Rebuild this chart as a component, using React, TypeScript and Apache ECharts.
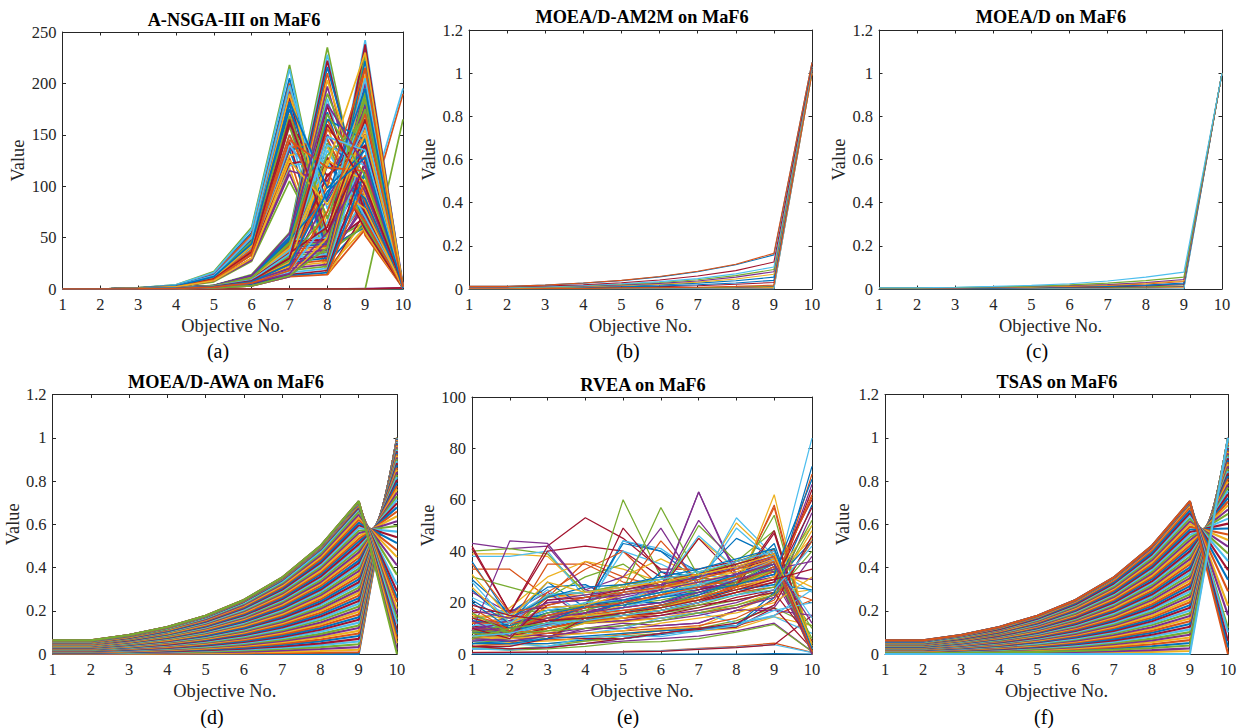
import React, { useEffect, useRef } from "react";
import * as echarts from "echarts";

const objectives = ["1", "2", "3", "4", "5", "6", "7", "8", "9", "10"];
const matlabColors = ["#0072BD", "#D95319", "#EDB120", "#7E2F8E", "#77AC30", "#4DBEEE", "#A2142F"];

const ansgaLines = [
  [0,0,0,0,0,0,0,0,0,0],[0,0,.3,1,3,9,22,38,62,190],[0,0,0,0,0,0,0,0,0,.5],[0,0,0,0,0,0,0,0,.5,1],
  [0,0,0,0,0,0,0,0,0,165],[0,0,.3,1,3,10,25,40,70,195],[0,0,0,0,0,0,0,0,0,1],
  [0,0,1,3.6,15,55,205,48,110,3],[0,0,1,3.5,15,53,200,36,85,1],[0,0,1,3.2,14,50,195,50,120,4],[0,0,.9,3,14,50,192,30,80,2],
  [0,0,1,4,17,60,218,45,100,2],[0,0,1,4,16,58,214,40,95,1],[0,0,.9,3,13,48,186,42,70,1],[0,0,.9,3,13,47,180,25,65,3],
  [0,0,.8,2.8,12,45,175,38,95,2],[0,0,.8,2.8,12,44,170,20,60,1],[0,0,.8,2.6,11,42,162,35,100,1],[0,0,.8,2.6,11,40,158,45,65,2],
  [0,0,.7,2.4,10,38,150,30,90,1],[0,0,.7,2.4,10,36,143,14,75,2],[0,0,.7,2.2,9,35,135,40,60,1],[0,0,.6,2,9,33,128,14,58,1],
  [0,0,.6,2,8,30,118,14,70,1],[0,0,.6,2,8,28,112,25,85,2],[0,0,.6,1.8,7,27,105,35,62,1],
  [0,0,.8,2.6,10,40,120,125,60,1],[0,0,.8,2.6,10,38,122,128,65,2],[0,0,.8,2.6,11,42,135,145,72,1],[0,0,.8,2.6,11,42,137,146,70,2],
  [0,0,.7,2.4,10,38,130,138,62,1],[0,0,.7,2.4,10,36,138,100,95,2],
  [0,0,.3,1,3.5,14,55,235,60,1],[0,0,.3,1,3.4,13,52,228,55,2],[0,0,.3,1,3.4,13,50,222,70,1],[0,0,.3,1,3.3,12,48,216,80,3],
  [0,0,.3,1,3.2,12,46,210,52,1],[0,0,.3,.9,3.2,12,44,203,90,2],[0,0,.3,.9,3,11,42,197,65,1],[0,0,.3,.9,3,11,40,190,100,4],
  [0,0,.2,.9,2.8,10,38,185,58,1],[0,0,.2,.8,2.8,10,36,178,75,2],[0,0,.2,.8,2.6,10,34,172,60,1],[0,0,.2,.8,2.6,9,32,165,85,2],
  [0,0,.2,.7,2.4,9,30,158,55,1],[0,0,.2,.7,2.4,8,28,150,95,3],[0,0,.2,.6,2.2,8,26,142,62,1],[0,0,.2,.6,2.2,8,25,135,70,2],
  [0,0,.2,.6,2,7,23,128,58,1],[0,0,.2,.5,2,7,21,120,88,2],[0,0,.1,.5,1.8,6,20,112,66,1],[0,0,.1,.5,1.6,5,18,105,78,1],
  [0,0,.3,1,3.2,12,44,46,233,4],[0,0,.3,.9,3.1,12,42,45,228,1],[0,0,.3,1,3.4,13,48,50,242,2],[0,0,.3,1,3.3,13,46,48,238,1],
  [0,0,.3,.9,3,12,40,44,222,2],[0,0,.3,.9,3,11,38,42,215,1],[0,0,.2,.8,2.8,11,36,40,208,3],[0,0,.2,.8,2.8,10,34,38,200,1],
  [0,0,.2,.8,2.6,10,32,36,195,2],[0,0,.2,.7,2.6,9,30,34,190,1],[0,0,.2,.7,2.4,9,28,32,185,1],[0,0,.2,.7,2.4,8,26,30,180,2],
  [0,0,.2,.6,2.2,8,24,28,172,1],[0,0,.2,.6,2,7,22,26,165,3],[0,0,.1,.5,2,7,20,24,158,1],[0,0,.1,.5,1.8,6,18,22,150,2],
  [0,0,.1,.5,1.6,5,16,20,140,1],[0,0,.1,.4,1.4,5,14,18,125,1],[0,0,.1,.4,1.2,4,13,16,115,2],[0,0,.1,.3,1,3,12,14,105,1],
  [0,0,.1,.3,1,3,12,50,186,1],[0,0,.1,.3,1,3,12,46,178,2],[0,0,.1,.3,1,3,13,40,190,1],
  [0,0,.7,2.2,9,35,140,90,170,1],[0,0,.6,2,8,30,160,110,150,2],[0,0,.8,2.6,11,45,175,85,145,1],[0,0,.7,2.4,10,38,150,70,130,3],
  [0,0,.8,2.6,11,42,190,60,155,1],[0,0,.6,2,8,28,115,105,175,2],[0,0,.3,1,3.2,12,45,130,165,1],[0,0,.3,.9,3,10,38,140,120,2],
  [0,0,.2,.8,2.6,9,30,110,140,1],[0,0,.3,1,3.4,13,50,165,145,4],[0,0,.3,.9,3,11,42,155,125,1],[0,0,.2,.7,2.4,8,26,125,105,2],
  [0,0,.2,.6,2,7,20,88,150,1],[0,0,.2,.8,2.6,9,28,75,185,2],[0,0,.1,.5,1.8,6,18,65,205,1],[0,0,.2,.9,2.8,10,35,60,165,3],
  [0,0,.3,1,3.2,12,48,90,195,1],[0,0,.2,.7,2.4,8,24,100,215,2],[0,0,.3,.9,3,11,40,120,230,1],[0,0,.1,.5,1.8,6,15,55,120,1],
  [0,0,.8,2.6,12,46,168,68,175,1],[0,0,.9,3,13,50,198,78,160,2],[0,0,.7,2.4,10,36,165,55,140,1],[0,0,.8,2.8,12,44,182,98,135,1],
  [0,0,.7,2.2,9,34,145,118,115,2],[0,0,.6,2,8,30,125,82,150,1],[0,0,.3,1,3.3,13,54,180,120,1],[0,0,.3,.9,3,11,44,170,110,2],
  [0,0,.2,.8,2.6,9,34,148,135,1],[0,0,.2,.7,2.4,8,30,160,100,3],[0,0,.2,.6,2,7,24,95,128,1],[0,0,.1,.5,1.8,6,18,75,170,2],
];

const am2mLines = [
  [.005,.005,.006,.009,.013,.019,.027,.038,.055,1.02],[.001,.001,.001,.001,.001,.002,.002,.002,.003,1],[.001,.001,.001,.001,.002,.003,.004,.005,.007,1],
  [.002,.002,.002,.002,.003,.004,.005,.007,.012,1.01],[.002,.002,.003,.003,.004,.005,.006,.009,.014,1.01],[0,0,0,0,0,0,0,0,0,1],
  [.003,.003,.004,.005,.008,.011,.015,.022,.03,1.01],[.004,.004,.005,.007,.01,.014,.02,.028,.04,1.02],[.002,.002,.002,.003,.005,.006,.008,.012,.018,1],
  [.005,.005,.007,.011,.016,.022,.032,.046,.068,1.02],[.006,.006,.009,.013,.019,.026,.037,.055,.08,1.03],[.007,.007,.01,.015,.022,.03,.043,.062,.09,1.03],
  [.008,.008,.011,.017,.024,.034,.048,.07,.102,1.03],[.01,.01,.014,.02,.029,.042,.06,.085,.125,1.04],[.012,.012,.018,.027,.039,.056,.08,.112,.158,1.05],
  [.012,.012,.018,.028,.04,.058,.082,.115,.165,1.05],
];

const moeadLines = [
  [.004,.004,.005,.006,.008,.01,.014,.018,.028,1],[.001,.001,.001,.002,.002,.002,.003,.004,.006,1],[.002,.002,.002,.002,.003,.004,.005,.006,.009,1],
  [.002,.002,.003,.003,.004,.005,.006,.008,.012,1],[.002,.002,.003,.004,.005,.006,.007,.01,.015,1],[0,0,0,0,0,0,0,0,0,1],
  [.003,.003,.004,.005,.006,.008,.01,.014,.021,1],[.003,.003,.004,.005,.007,.009,.012,.016,.024,1],[.004,.004,.005,.007,.009,.012,.016,.023,.035,1],
  [.005,.005,.006,.008,.01,.014,.019,.027,.038,1],[.005,.005,.006,.008,.012,.016,.021,.03,.044,1],[.005,.005,.007,.01,.013,.019,.027,.039,.055,1],
  [.006,.006,.008,.012,.017,.024,.037,.055,.078,1],
];

const awaLines = [
  [0,0,0,0,0,0,0,0,0,1],
  [.001,.001,.001,.001,.002,.003,.004,.006,.008,1],[.002,.002,.003,.004,.005,.007,.01,.014,.02,1],[.003,.003,.004,.006,.008,.011,.016,.023,.032,.999],
  [.004,.004,.006,.008,.011,.016,.023,.032,.045,.998],[.005,.005,.007,.01,.015,.021,.029,.041,.058,.997],[.006,.006,.009,.012,.018,.025,.035,.049,.07,.995],
  [.007,.007,.01,.015,.021,.029,.042,.059,.083,.993],[.008,.008,.012,.017,.024,.034,.048,.067,.095,.991],[.009,.009,.013,.019,.027,.038,.054,.076,.107,.988],
  [.011,.011,.015,.021,.03,.042,.06,.085,.12,.985],[.012,.012,.017,.023,.033,.047,.066,.093,.132,.982],[.013,.013,.018,.026,.036,.051,.073,.103,.145,.979],
  [.014,.014,.02,.028,.04,.056,.079,.112,.158,.975],[.015,.015,.021,.03,.043,.06,.085,.12,.17,.971],[.016,.016,.023,.032,.046,.065,.092,.129,.183,.966],
  [.017,.017,.024,.035,.049,.069,.098,.138,.195,.961],[.018,.018,.026,.037,.052,.073,.104,.146,.207,.956],[.019,.019,.028,.039,.055,.078,.11,.156,.22,.95],
  [.021,.021,.029,.041,.058,.082,.116,.164,.232,.945],[.022,.022,.031,.043,.061,.087,.123,.173,.245,.938],[.023,.023,.032,.046,.065,.091,.129,.182,.258,.931],
  [.024,.024,.034,.048,.068,.096,.135,.191,.27,.924],[.025,.025,.035,.05,.071,.1,.142,.2,.283,.917],[.026,.026,.037,.052,.074,.104,.148,.209,.295,.909],
  [.027,.027,.038,.054,.077,.109,.154,.217,.307,.901],[.028,.028,.04,.057,.08,.113,.16,.226,.32,.892],[.029,.029,.042,.059,.083,.118,.166,.235,.332,.883],
  [.03,.03,.043,.061,.086,.122,.173,.244,.345,.873],[.032,.032,.045,.063,.09,.127,.179,.253,.358,.862],[.033,.033,.046,.065,.093,.131,.185,.262,.37,.852],
  [.034,.034,.048,.068,.096,.136,.192,.271,.383,.841],[.035,.035,.049,.07,.099,.14,.198,.279,.395,.829],[.036,.036,.051,.072,.102,.144,.204,.288,.407,.818],
  [.037,.037,.053,.074,.105,.149,.21,.297,.42,.805],[.038,.038,.054,.076,.108,.153,.216,.305,.432,.792],[.039,.039,.056,.079,.111,.158,.223,.315,.445,.777],
  [.04,.04,.057,.081,.115,.162,.229,.324,.458,.762],[.042,.042,.059,.083,.118,.166,.235,.332,.47,.747],[.043,.043,.06,.085,.121,.171,.242,.341,.483,.73],
  [.044,.044,.062,.088,.124,.175,.248,.35,.495,.714],[.045,.045,.063,.09,.127,.179,.254,.358,.507,.697],[.046,.046,.065,.092,.13,.184,.26,.368,.52,.678],
  [.047,.047,.067,.094,.133,.188,.266,.376,.532,.659],[.048,.048,.068,.096,.136,.193,.273,.385,.545,.637],[.049,.049,.07,.099,.14,.198,.279,.395,.558,.614],
  [.05,.05,.071,.101,.143,.202,.285,.403,.57,.592],[.052,.052,.073,.103,.146,.206,.292,.412,.583,.566],[.053,.053,.074,.105,.149,.211,.298,.421,.595,.54],
  [.054,.054,.076,.107,.152,.215,.304,.429,.607,.513],[.055,.055,.078,.11,.155,.219,.31,.438,.62,.48],[.056,.056,.079,.112,.158,.224,.316,.447,.632,.448],
  [.057,.057,.081,.114,.161,.228,.323,.456,.645,.41],[.058,.058,.082,.116,.165,.233,.329,.465,.658,.366],[.059,.059,.084,.119,.168,.237,.335,.474,.67,.32],
  [.06,.06,.085,.121,.171,.242,.342,.483,.677,.29],[.06,.06,.085,.121,.171,.242,.342,.483,.683,.26],[.061,.061,.086,.122,.172,.244,.345,.487,.687,.24],[.061,.061,.087,.123,.174,.246,.348,.491,.692,.21],
  [.061,.061,.087,.123,.174,.246,.348,.491,.695,.183],[.062,.062,.087,.124,.175,.247,.349,.494,.698,.16],[.062,.062,.088,.124,.175,.248,.35,.495,.7,.14],[.062,.062,.088,.124,.176,.248,.351,.497,.7025,.11],
  [.062,.062,.088,.125,.176,.249,.352,.498,.704,.09],[.063,.063,.088,.125,.177,.25,.353,.499,.7055,.07],[.063,.063,.088,.125,.177,.25,.353,.499,.706,.05],[.063,.063,.088,.125,.177,.25,.354,.5,.7068,.02],[.063,.063,.088,.125,.177,.25,.354,.5,.707,0],
];

const rveaLines = [
  [0,0,0,0,0,0,0,0,.1,0],[.6,.6,.7,.8,1,1.3,2.2,3,4.2,.6],[4,3.5,4,5,6,8,9,10,14.5,11],[2,1.8,2.5,4,5,6,7,9,12,1],[2.5,1.5,2,3,4.5,4.8,6,8.5,11.5,1],[.3,.4,.5,.5,.8,1.2,2,2.7,3.6,.5],[.5,.6,.7,.7,.8,1,1.8,2.5,3.6,15],
  [5,4,4,5.5,6,7.5,9.5,10.5,22,44],[6,5,5.5,6,7.5,9,10,11,15,21],[5,4.5,5,6,8,9.5,10.5,17,23,25],[7,6,6,10,12,11,12,17,18,38],[3,2,3,5,7,8,10,13,18,11],[5,4,3,6.5,7,6.8,9,12,14.5,8],[7,8,7,6,6,8,9.5,10.5,18,2],
  [11,10,11,12,13,14,16,18,23,73],[9,10,11,12,13,14,16,18,23,70],[8,9,11,12,12.5,14,17,19,24,48],[10,10,11.5,12,13,15,17,20,25,66],[8,10,12,12.5,14,16,18,21,24,50],[11,13,14,15,16,18,20,23,27,84],[9,9,12,13,14,15,18,22,25,64],
  [10,12,14,15,16,18,21,24,28,44],[6,10,14,16,17,18,22,25,28,62],[9,13,15,16,18,20,22,26,30,45],[12,14,15,17,18,20,23,27,31,29],[14,16,17,18,19,21,24,28,32,10],[13,17,18,19,20,22,24,28,33,24],[16,17,18,19,20,23,25,28,32,60],
  [8,12,17,18,20,23,25,30,36,2],[7,10,22,24,26,28,30,33,38,1],[10,15,22,23,25,27,30,34,37,.5],[12,13,20,21,24,27,30,33,36,1],[6,9,23,24,27,29,31,35,40,1],[9,14,23,24,26,28,31,36,39,3],[11,8,19,22,23,26,28,31,41,2],
  [29,16,26,27,20,20,25,28,31,4],[33,33,22,36,30,26,27,30,35,1],[39,39,38,24,26,28,30,35,40,1],[43,41,42,25,21,22,25,30,36,1],[40,41,39,24,25,27,31,36,41,3],[38,38,40,22,24,26,29,34,38,0],[42,16,42,53,45,33,33,36,40,2],
  [25,12,28,18,44,40,32,30,35,1],[15,11,35,35,28,26,30,27,32,1],[12,18,30,36,33,28,26,29,33,0],[24,16,24,14,21,22,26,26,29,3],[30,26,22,30,35,25,24,28,32,5],[22,15,25,15,44,41,31,29,33,2],[41,16,40,42,40,30,30,33,37,1],
  [21,12,16,19,43,40,28,28,35,1],[14,10,24,33,40,26,30,27,32,1],[6,8,11,16,30,37,30,32,36,1],[9,44,43,25,30,49,26,27,30,29],[6,9,12,14,60,30,22,28,36,2],[7,12,14,18,40,35,28,28,34,1],[7,12,14,18,49,32,25,28,34,1],
  [5,7,10,14,18,32,30,26,33,1],[8,10,13,18,24,44,28,27,34,0],[6,8,11,15,20,26,45,33,36,1],[10,12,15,19,22,25,63,30,38,3],[9,11,14,20,25,57,30,26,33,1],[7,9,12,15,21,26,46,33,38,0],[5,8,12,16,20,25,45,30,36,1],
  [6,8,11,15,20,23,30,45,38,1],[6,7,10,13,15,17,20,26,58,2],[6,7,11,15,19,23,28,51,37,1],[9,13,14,18,23,26,63,31,37,2],[8,10,13,17,21,24,50,36,48,2],[4,6,10,14,18,22,26,53,38,1],[7,9,10,13,16,19,21,27,48,1],
  [8,9,12,14,16,19,23,29,43,1],[7,9,10,13,16,19,21,27,57,0],[5,7,10,12,14,17,20,24,62,1],[6,8,11,16,20,25,52,34,32,1],[4,6,9,12,15,18,22,28,54,1],[5,8,11,14,18,22,27,49,36,2],[6,7,10,13,15,17,20,26,47,0],
  [4,5,6,13,16,19,22,25,27,25],[3,4,10,13,14,16,20,24,26,21],[6,7,8,12,14,18,22,26,33,26],[5,6,8,10,10,11,12,17,17,15],[8,7,6,15,16,18,24,27,33,3],[2,3,7,8,10,14,16,12,15,25],[3,3,6,14,15,16,19,21,24,5],
  [4,4,6,7,8,9,10,11,24,58],[10,9,8,8,9,10,11,14,21,44],[7,6,7,8,9,12,14,16,20,30],[6,5,7,9,11,13,15,18,22,55],[9,8,9,10,11,13,16,19,23,40],[2,1.5,3,4,6,8,9,11,17,20],[3,2,2.5,4,6,8,10,12,19,46],
  [13,11,16,18,19,22,24,27,31,68],[12,12,13,15,17,19,22,26,29,61],[15,14,14,15,16,18,21,25,30,50],[10,9,14,16,18,20,24,29,33,36],[7,9,16,19,21,24,27,30,35,6],[11,12,17,20,21,24,27,31,36,14],[14,10,13,14,15,17,20,24,28,57],
  [20,10,12,19,21,24,26,31,35,2],[18,9,15,18,20,23,26,30,36,1],[26,12,18,19,23,26,28,32,37,3],[13,7,21,23,25,27,30,34,38,0],[16,8,23,24,27,29,32,35,39,1],[28,12,23,24,26,29,32,36,40,2],[10,6,21,22,25,28,31,35,39,1],
  [36,14,22,26,27,30,33,37,41,2],[35,16,19,22,24,26,29,33,38,1],[31,14,28,24,26,28,31,34,39,4],[17,14,20,21,23,25,28,31,35,12],[6,10,12,14,15,17,19,23,26,52],[7,8,12,13,15,17,20,23,25,42],[19,15,13,14,16,18,21,25,29,33],
];

const tsasLines = [
  [.005,.005,.006,.009,.013,.018,.026,.036,.051,.997],[.006,.006,.008,.011,.016,.023,.032,.045,.064,.996],[.007,.007,.01,.013,.019,.027,.038,.054,.076,.994],
  [.008,.008,.011,.016,.022,.032,.045,.063,.089,.992],[.009,.009,.013,.018,.025,.036,.051,.071,.101,.99],[.01,.01,.014,.02,.029,.04,.057,.081,.114,.987],
  [.011,.011,.016,.022,.032,.045,.063,.089,.126,.984],[.012,.012,.017,.025,.035,.049,.07,.098,.139,.98],[.013,.013,.019,.027,.038,.053,.076,.107,.151,.977],
  [.014,.014,.021,.029,.041,.058,.082,.116,.164,.973],[.016,.016,.022,.031,.044,.062,.088,.124,.176,.968],[.017,.017,.024,.034,.047,.067,.095,.134,.189,.963],
  [.018,.018,.025,.036,.05,.071,.101,.142,.201,.958],[.019,.019,.027,.038,.054,.076,.107,.151,.214,.953],[.02,.02,.028,.04,.057,.08,.113,.16,.226,.947],
  [.021,.021,.03,.042,.06,.085,.12,.169,.239,.941],[.022,.022,.031,.044,.063,.089,.126,.177,.251,.934],[.023,.023,.033,.047,.066,.093,.132,.187,.264,.928],
  [.024,.024,.035,.049,.069,.098,.138,.195,.276,.92],[.026,.026,.036,.051,.072,.102,.145,.204,.289,.913],[.027,.027,.038,.053,.075,.107,.151,.213,.301,.905],
  [.028,.028,.039,.056,.079,.111,.157,.222,.314,.896],[.029,.029,.041,.058,.082,.115,.163,.23,.326,.887],[.03,.03,.042,.06,.085,.12,.17,.24,.339,.878],
  [.031,.031,.044,.062,.088,.124,.176,.249,.351,.868],[.032,.032,.046,.064,.091,.129,.182,.258,.364,.857],[.033,.033,.047,.067,.094,.133,.188,.266,.376,.846],
  [.034,.034,.049,.069,.097,.138,.195,.275,.389,.835],[.035,.035,.05,.071,.1,.142,.201,.284,.401,.823],[.037,.037,.052,.073,.103,.147,.207,.292,.414,.811],
  [.038,.038,.053,.075,.106,.151,.213,.301,.426,.798],[.039,.039,.055,.078,.11,.155,.22,.31,.439,.784],[.04,.04,.056,.08,.113,.16,.226,.319,.451,.77],
  [.041,.041,.058,.082,.116,.164,.232,.328,.464,.755],[.042,.042,.06,.084,.119,.168,.238,.336,.476,.739],[.043,.043,.061,.087,.122,.173,.245,.346,.489,.722],
  [.044,.044,.063,.089,.125,.177,.251,.354,.501,.705],[.045,.045,.064,.091,.128,.182,.257,.363,.513,.688],[.047,.047,.066,.093,.131,.186,.263,.372,.526,.668],
  [.048,.048,.067,.095,.135,.19,.27,.381,.539,.648],[.049,.049,.069,.098,.138,.195,.276,.39,.551,.626],[.05,.05,.07,.1,.141,.2,.282,.399,.564,.603],
  [.051,.051,.072,.102,.144,.204,.288,.408,.576,.58],[.052,.052,.074,.104,.147,.208,.295,.416,.589,.553],[.053,.053,.075,.106,.15,.213,.301,.425,.601,.527],
  [.054,.054,.077,.109,.153,.217,.307,.434,.614,.497],[.055,.055,.078,.111,.156,.222,.313,.443,.626,.465],[.056,.056,.08,.113,.16,.226,.32,.452,.639,.43],
  [.058,.058,.082,.115,.163,.23,.326,.461,.652,.388],[.058,.058,.083,.118,.166,.235,.332,.469,.664,.343],[.06,.06,.085,.12,.17,.24,.339,.479,.677,.29],
  [.061,.061,.086,.122,.172,.244,.345,.487,.689,.224],[.061,.061,.087,.123,.174,.246,.348,.491,.696,.18],[.062,.062,.088,.124,.175,.248,.35,.496,.701,.12],[.062,.062,.088,.125,.176,.249,.352,.498,.703,.1],
  [.063,.063,.088,.125,.177,.25,.353,.499,.705,.06],[.063,.063,.088,.125,.177,.25,.354,.5,.7065,.03],[.063,.063,.088,.125,.177,.25,.354,.5,.707,0],
  [.001,.001,.002,.002,.004,.005,.007,.01,.014,1],[.002,.002,.003,.005,.007,.009,.013,.018,.026,1],[.003,.003,.005,.007,.01,.014,.02,.028,.039,.998],[0,0,0,0,0,0,0,0,0,1],
];

const titles = ["A-NSGA-III on MaF6", "MOEA/D-AM2M on MaF6", "MOEA/D on MaF6", "MOEA/D-AWA on MaF6", "RVEA on MaF6", "TSAS on MaF6"];
const captions = ["(a)", "(b)", "(c)", "(d)", "(e)", "(f)"];
const axisMaxima = [250, 1.2, 1.2, 1.2, 100, 1.2];
const axisSteps = [50, 0.2, 0.2, 0.2, 20, 0.2];
const panelLines = [ansgaLines, am2mLines, moeadLines, awaLines, rveaLines, tsasLines];
const lineWidths = [1.7, 1.1, 1.1, 2.1, 1.25, 2.1];

// left, right, top, bottom of each plot box in page pixels
const boxes = [
  [62.5, 403, 32, 289], [469, 812, 30, 289], [879, 1222, 30, 289],
  [52.5, 397, 394.5, 654], [472, 812, 397, 654], [885, 1228, 394.5, 654],
];
const titleCenters = [[234, 20], [642, 17], [1051, 17], [226, 382], [643, 385], [1057, 382]];
const captionCenters = [[218, 351], [628, 351], [1037, 351], [212, 717], [628, 717], [1044, 717]];
const valueGaps = [36, 31, 30, 31, 35, 33];

const textColor = "#262626";
const serif = "'Liberation Serif', 'Times New Roman', serif";

function buildOption() {
  const grid: any[] = [];
  const xAxis: any[] = [];
  const yAxis: any[] = [];
  const series: any[] = [];
  const title: any[] = [];
  const graphic: any[] = [];
  boxes.forEach(([l, r, t, b], p) => {
    grid.push({ left: l, top: t, width: r - l, height: b - t, containLabel: false });
    const line = { show: true, onZero: false, lineStyle: { color: textColor, width: 1 } };
    const tick = { show: true, inside: true, length: 3.5, lineStyle: { color: textColor, width: 1 } };
    xAxis.push({
      type: "category", gridIndex: p, data: objectives, boundaryGap: false, position: "bottom",
      axisLine: line, axisTick: { ...tick, alignWithLabel: true, interval: 0 }, splitLine: { show: false },
      axisLabel: { interval: 0, color: textColor, fontFamily: serif, fontSize: 16.5, margin: 7 },
      name: "Objective No.", nameLocation: "middle", nameGap: 28,
      nameTextStyle: { color: textColor, fontFamily: serif, fontSize: 18.4 },
    });
    xAxis.push({
      type: "category", gridIndex: p, data: objectives, boundaryGap: false, position: "top",
      axisLine: line, axisTick: { ...tick, alignWithLabel: true, interval: 0 },
      axisLabel: { show: false }, splitLine: { show: false },
    });
    yAxis.push({
      type: "value", gridIndex: p, min: 0, max: axisMaxima[p], interval: axisSteps[p], position: "left",
      axisLine: line, axisTick: tick, splitLine: { show: false },
      axisLabel: { color: textColor, fontFamily: serif, fontSize: 16.5, margin: 6 },
      name: "Value", nameLocation: "middle", nameRotate: 90, nameGap: valueGaps[p],
      nameTextStyle: { color: textColor, fontFamily: serif, fontSize: 18.4 },
    });
    yAxis.push({
      type: "value", gridIndex: p, min: 0, max: axisMaxima[p], interval: axisSteps[p], position: "right",
      axisLine: line, axisTick: tick, axisLabel: { show: false }, splitLine: { show: false },
    });
    panelLines[p].forEach((row, i) => {
      series.push({
        type: "line", xAxisIndex: 2 * p, yAxisIndex: 2 * p, data: row, symbol: "none", silent: true,
        lineStyle: { color: matlabColors[i % matlabColors.length], width: lineWidths[p] },
      });
    });
    title.push({
      text: titles[p], left: titleCenters[p][0], top: titleCenters[p][1] - 9, textAlign: "center",
      padding: 0, textStyle: { color: "#000", fontFamily: serif, fontWeight: "bold", fontSize: 18.3, lineHeight: 18 },
    });
    graphic.push({
      type: "text", x: captionCenters[p][0], y: captionCenters[p][1],
      style: { text: captions[p], fill: "#000", font: `20px ${serif}`, textAlign: "center", textVerticalAlign: "middle" },
    });
  });
  return { animation: false, backgroundColor: "#fff", grid, xAxis, yAxis, series, title, graphic, tooltip: { show: false } };
}

export default function App() {
  const ref = useRef<HTMLDivElement>(null);
  useEffect(() => {
    document.body.style.margin = "0";
    const chart = echarts.init(ref.current!, undefined, { renderer: "svg" });
    chart.setOption(buildOption());
    return () => chart.dispose();
  }, []);
  return <div ref={ref} style={{ width: 1247, height: 728 }} />;
}
